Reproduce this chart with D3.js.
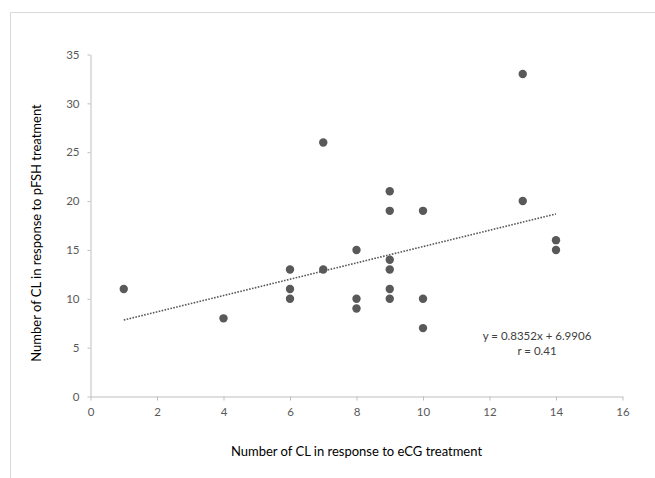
<!DOCTYPE html>
<html>
<head>
<meta charset="utf-8">
<script src="https://cdn.jsdelivr.net/npm/d3@7"></script>
<style>
  body { margin: 0; background: #fff; }
  text { font-family: Lato, "Open Sans", sans-serif; }
</style>
</head>
<body>
<div id="chart"></div>
<script>
// CL counts, one entry per animal
const ecg  = [1, 4, 6, 6, 6, 7, 7, 8, 8, 8, 9, 9, 9, 9, 9, 9, 10, 10, 10, 13, 13, 14, 14];
const pfsh = [11, 8, 13, 11, 10, 26, 13, 15, 10, 9, 21, 19, 14, 13, 11, 10, 19, 10, 7, 33, 20, 16, 15];
const xTicks = [0, 2, 4, 6, 8, 10, 12, 14, 16];
const yTicks = [0, 5, 10, 15, 20, 25, 30, 35];
const slope = 0.8352, intercept = 6.9906;
const trendRange = [1, 14];
const eqLines = ["y = 0.8352x + 6.9906", "r = 0.41"];

const W = 655, H = 478;
const svg = d3.select("#chart").append("svg")
  .attr("width", W).attr("height", H);

// chart frame (top and left edges visible only)
svg.append("path")
  .attr("d", `M10.5,${H} V12.5 H${W}`)
  .attr("fill", "none")
  .attr("stroke", "#d9d9d9");

const x = d3.scaleLinear().domain([0, 16]).range([90.5, 622.5]);
const y = d3.scaleLinear().domain([0, 35]).range([396.5, 54.5]);

const xAxis = svg.append("g")
  .attr("transform", `translate(0,${y(0)})`)
  .call(d3.axisBottom(x).tickValues(xTicks).tickSize(4).tickPadding(7).tickSizeOuter(0));

const yAxis = svg.append("g")
  .attr("transform", `translate(${x(0)},0)`)
  .call(d3.axisLeft(y).tickValues(yTicks).tickSize(3).tickPadding(8).tickSizeOuter(0));

[xAxis, yAxis].forEach(g => {
  g.select(".domain").attr("stroke", "#bfbfbf");
  g.selectAll(".tick line").attr("stroke", "#bfbfbf");
  g.selectAll(".tick text")
    .attr("fill", "#595959")
    .style("font-size", "11.5px")
    .style("font-family", "Lato, 'Open Sans', sans-serif");
});

// trend line
svg.append("line")
  .attr("x1", x(trendRange[0])).attr("y1", y(slope * trendRange[0] + intercept))
  .attr("x2", x(trendRange[1])).attr("y2", y(slope * trendRange[1] + intercept))
  .attr("stroke", "#595959")
  .attr("stroke-width", 1.6)
  .attr("stroke-dasharray", "1.6,1.4");

svg.append("g")
  .selectAll("circle")
  .data(ecg.map((d, i) => ({ x: d, y: pfsh[i] })))
  .join("circle")
  .attr("cx", d => x(d.x))
  .attr("cy", d => y(d.y))
  .attr("r", 4.2)
  .attr("fill", "#595959");

svg.append("g")
  .selectAll("text")
  .data(eqLines)
  .join("text")
  .attr("x", 537)
  .attr("y", (d, i) => 340 + i * 15)
  .attr("text-anchor", "middle")
  .attr("fill", "#404040")
  .style("font-size", "11.5px")
  .text(d => d);

svg.append("text")
  .attr("x", (x(0) + x(16)) / 2)
  .attr("y", 456)
  .attr("text-anchor", "middle")
  .attr("fill", "#000")
  .style("font-size", "13px")
  .text("Number of CL in response to eCG treatment");

svg.append("text")
  .attr("transform", `translate(41,233) rotate(-90)`)
  .attr("text-anchor", "middle")
  .attr("fill", "#000")
  .style("font-size", "13px")
  .text("Number of CL in response to pFSH treatment");
</script>
</body>
</html>
